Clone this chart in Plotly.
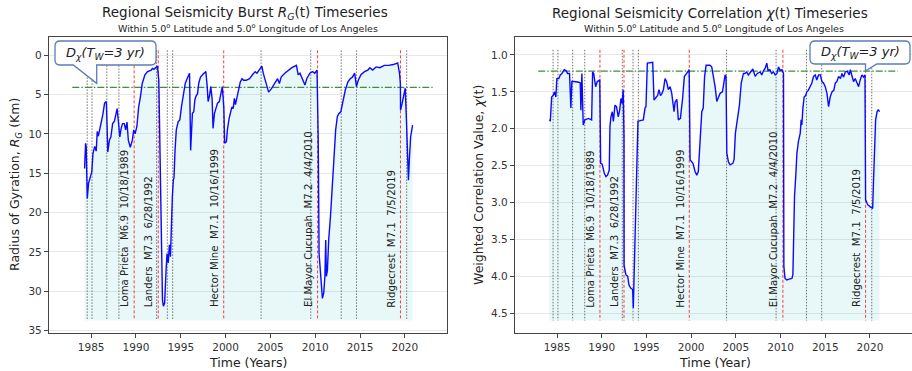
import plotly.graph_objects as go

# ---------------- data ----------------
rg_years = [1984.27, 1984.38, 1984.45, 1984.57, 1984.71, 1984.93, 1985.08, 1985.2, 1985.4, 1985.57,
            1985.68, 1985.8, 1985.97, 1986.1, 1986.3, 1986.5, 1986.7, 1986.86, 1987.04, 1987.2,
            1987.4, 1987.6, 1987.8, 1987.9, 1988.05, 1988.2, 1988.35, 1988.5, 1988.7, 1988.85,
            1989.0, 1989.15, 1989.37, 1989.6, 1989.75, 1989.9, 1990.1, 1990.3, 1990.5, 1990.7,
            1991.0, 1991.3, 1991.7, 1991.85, 1992.0, 1992.2, 1992.4, 1992.55, 1992.77, 1992.96,
            1993.06, 1993.2, 1993.36, 1993.47, 1993.6, 1993.73, 1993.85, 1993.95, 1994.06, 1994.17,
            1994.25, 1994.36, 1994.5, 1994.7, 1994.9, 1995.07, 1995.2, 1995.36, 1995.5, 1995.7,
            1995.98, 1996.1, 1996.2, 1996.3, 1996.45, 1996.57, 1996.7, 1996.87, 1997.0, 1997.2,
            1997.5, 1997.8, 1997.95, 1998.05, 1998.2, 1998.35, 1998.5, 1998.6, 1998.76, 1998.95,
            1999.1, 1999.3, 1999.5, 1999.63, 1999.8, 1999.9, 2000.09, 2000.2, 2000.4, 2000.55,
            2000.7, 2000.85, 2000.98, 2001.1, 2001.3, 2001.45, 2001.64, 2001.83, 2002.0, 2002.3,
            2002.67, 2003.0, 2003.3, 2003.5, 2003.8, 2004.05, 2004.2, 2004.6, 2004.8, 2005.1,
            2005.5, 2005.8, 2006.0, 2006.2, 2006.6, 2007.0, 2007.4, 2007.9, 2008.1, 2008.3,
            2008.65, 2008.85, 2009.05, 2009.4, 2009.7, 2009.95, 2010.2, 2010.33, 2010.43, 2010.6,
            2010.8, 2010.95, 2011.08, 2011.17, 2011.25, 2011.36, 2011.5, 2011.7, 2011.87, 2012.1,
            2012.28, 2012.47, 2012.65, 2012.85, 2013.1, 2013.36, 2013.65, 2013.9, 2014.15, 2014.4,
            2014.6, 2014.8, 2015.1, 2015.5, 2015.87, 2016.1, 2016.4, 2016.8, 2017.2, 2017.7,
            2018.2, 2018.7, 2019.2, 2019.4, 2019.5, 2019.52, 2019.7, 2019.85, 2020.04, 2020.15,
            2020.3, 2020.4, 2020.5, 2020.64, 2020.86]
rg_values = [14.4, 11.2, 11.6, 18.2, 16.3, 15.4, 14.8, 12.5, 11.6, 12.2,
             9.7, 10.3, 9.3, 9.0, 7.6, 6.1, 5.9, 12.3, 10.8, 10.4,
             8.7, 8.4, 7.2, 6.8, 8.5, 10.4, 9.3, 8.7, 8.7, 9.5,
             8.5, 10.8, 11.7, 10.8, 9.5, 10.0, 9.1, 6.6, 5.3, 3.6,
             2.5, 2.1, 1.9, 1.7, 1.8, 1.6, 1.4, 3.2, 19.3, 31.1,
             31.9, 31.5, 27.3, 25.2, 26.4, 24.1, 25.6, 21.4, 18.0, 15.9,
             15.5, 12.1, 9.5, 8.5, 8.2, 6.6, 5.7, 4.4, 3.6, 3.0,
             2.3, 12.1, 9.5, 7.4, 7.2, 5.7, 5.2, 4.9, 3.6, 2.8,
             2.4, 2.1, 4.0, 5.9, 5.2, 4.0, 5.6, 9.3, 7.4, 6.6,
             6.1, 5.9, 4.4, 4.0, 6.6, 11.2, 11.0, 9.5, 8.0, 7.4,
             6.6, 6.8, 5.5, 6.3, 5.3, 4.4, 3.4, 3.0, 3.2, 3.2,
             3.0, 2.5, 2.1, 2.3, 1.8, 1.4, 2.3, 3.8, 4.7, 4.3,
             3.6, 3.0, 3.6, 2.8, 2.3, 1.9, 1.6, 1.3, 2.5, 2.3,
             3.4, 3.8, 3.0, 2.3, 2.1, 2.3, 1.9, 10.4, 25.2, 27.7,
             30.9, 30.2, 28.1, 23.5, 28.1, 27.3, 23.5, 20.5, 17.1, 12.9,
             9.5, 7.8, 7.4, 7.2, 5.7, 4.4, 3.4, 3.0, 2.8, 2.3,
             4.0, 3.2, 2.5, 2.1, 1.9, 1.6, 1.9, 1.5, 1.6, 1.3,
             1.3, 1.2, 1.0, 2.3, 3.6, 7.0, 6.1, 5.3, 4.2, 7.4,
             12.1, 15.9, 13.3, 10.4, 8.9]

chi_years = [1984.12, 1984.25, 1984.4, 1984.55, 1984.73, 1984.87, 1984.98, 1985.2, 1985.36, 1985.55,
             1985.8, 1986.0, 1986.18, 1986.4, 1986.55, 1986.66, 1986.9, 1987.1, 1987.45, 1987.6,
             1987.67, 1987.78, 1987.93, 1988.12, 1988.5, 1988.87, 1988.98, 1989.1, 1989.32, 1989.5,
             1989.78, 1989.88, 1990.05, 1990.28, 1990.47, 1990.65, 1990.84, 1990.92, 1991.03, 1991.18,
             1991.3, 1991.48, 1991.65, 1991.85, 1992.0, 1992.15, 1992.28, 1992.4, 1992.49, 1992.5,
             1992.7, 1992.9, 1993.05, 1993.24, 1993.46, 1993.53, 1993.72, 1993.9, 1994.05, 1994.3,
             1994.65, 1994.84, 1994.95, 1995.1, 1995.4, 1995.7, 1995.85, 1996.07, 1996.25, 1996.4,
             1996.57, 1996.74, 1996.9, 1997.08, 1997.25, 1997.45, 1997.65, 1997.83, 1998.09, 1998.2,
             1998.4, 1998.57, 1998.8, 1999.06, 1999.24, 1999.5, 1999.78, 1999.88, 2000.2, 2000.44,
             2000.63, 2000.8, 2001.0, 2001.19, 2001.35, 2001.5, 2001.67, 2002.1, 2002.3, 2002.48,
             2002.68, 2002.87, 2003.05, 2003.24, 2003.5, 2003.69, 2003.8, 2003.9, 2003.99, 2004.17,
             2004.36, 2004.66, 2004.8, 2004.95, 2005.18, 2005.4, 2005.6, 2005.85, 2006.0, 2006.2,
             2006.4, 2006.67, 2006.9, 2007.16, 2007.4, 2007.72, 2007.9, 2008.1, 2008.28, 2008.46,
             2008.6, 2008.8, 2009.0, 2009.2, 2009.4, 2009.6, 2009.77, 2009.95, 2010.15, 2010.33,
             2010.37, 2010.5, 2010.7, 2010.95, 2011.27, 2011.38, 2011.45, 2011.56, 2011.72, 2011.83,
             2012.0, 2012.2, 2012.3, 2012.38, 2012.5, 2012.64, 2012.8, 2012.94, 2013.1, 2013.32,
             2013.5, 2013.69, 2013.88, 2014.05, 2014.25, 2014.45, 2014.63, 2014.8, 2015.0, 2015.19,
             2015.37, 2015.55, 2015.75, 2015.95, 2016.12, 2016.3, 2016.5, 2016.7, 2016.87, 2017.05,
             2017.24, 2017.45, 2017.68, 2017.8, 2017.98, 2018.16, 2018.35, 2018.55, 2018.73, 2018.9,
             2019.1, 2019.28, 2019.44, 2019.51, 2019.74, 2020.04, 2020.3, 2020.4, 2020.52, 2020.63,
             2020.79, 2020.93, 2021.07]
chi_values = [1.88, 1.89, 1.57, 1.55, 1.50, 1.57, 1.32, 1.32, 1.27, 1.25,
              1.20, 1.21, 1.25, 1.25, 1.72, 1.36, 1.36, 1.36, 1.37, 1.38,
              1.75, 1.25, 1.95, 1.88, 1.86, 1.88, 1.23, 1.25, 1.43, 1.36,
              1.34, 2.47, 2.48, 2.60, 2.65, 2.63, 2.56, 1.97, 1.84, 1.77,
              1.90, 1.68, 1.70, 1.84, 1.75, 1.59, 1.66, 1.47, 2.11, 3.85,
              3.98, 4.00, 4.12, 4.16, 4.18, 4.43, 3.51, 2.29, 1.90, 1.89,
              1.88, 1.72, 1.70, 1.11, 1.10, 1.10, 1.61, 1.57, 1.55, 1.47,
              1.55, 1.52, 1.47, 1.32, 1.36, 1.47, 1.43, 1.52, 1.77, 1.64,
              1.60, 1.88, 1.86, 1.57, 1.29, 1.25, 1.20, 2.42, 2.47, 2.58,
              2.63, 2.58, 2.15, 1.77, 1.72, 1.30, 1.14, 1.14, 1.16, 1.29,
              1.43, 1.63, 1.57, 1.52, 1.50, 1.36, 1.27, 1.29, 2.33, 2.45,
              2.49, 2.47, 2.42, 2.06, 1.84, 1.68, 1.38, 1.25, 1.25, 1.23,
              1.27, 1.23, 1.19, 1.29, 1.25, 1.23, 1.27, 1.21, 1.18, 1.11,
              1.21, 1.20, 1.25, 1.23, 1.27, 1.25, 1.16, 1.21, 1.20, 1.25,
              3.87, 4.03, 4.05, 4.04, 4.03, 3.98, 3.51, 2.92, 2.60, 2.33,
              2.17, 2.06, 1.88, 1.95, 1.72, 1.57, 1.55, 1.50, 1.48, 1.43,
              1.38, 1.29, 1.27, 1.34, 1.27, 1.27, 1.36, 1.38, 1.43, 1.52,
              1.70, 1.57, 1.50, 1.48, 1.38, 1.36, 1.29, 1.32, 1.25, 1.30,
              1.23, 1.22, 1.27, 1.20, 1.27, 1.36, 1.32, 1.38, 1.43, 1.34,
              1.27, 1.30, 1.27, 2.96, 3.03, 3.06, 3.08, 2.69, 2.24, 1.88,
              1.77, 1.74, 1.77]

major_dates = [1989.80, 1992.49, 1999.79, 2010.26, 2019.51]
major_labels = ["Loma Prieta  M6.9  10/18/1989", "Landers  M7.3  6/28/1992",
                "Hector Mine  M7.1  10/16/1999", "El Mayor Cucupah  M7.2  4/4/2010",
                "Ridgecrest  M7.1  7/5/2019"]
minor_dates = [1984.56, 1985.1, 1986.75, 1988.1, 1992.3, 1993.5, 1994.1, 2003.96,
               2009.5, 2012.9, 2014.6, 2020.2]

rg_threshold = 4.1
chi_threshold = 1.22
threshold_span = [1982.9, 2023.1]

RG_BASE, RG_VTOP, RG_LABEL_Y = 33.7, -0.6, 32.3
CHI_BASE, CHI_VTOP, CHI_LABEL_Y = 4.6, 0.93, 4.45

W, H = 912, 371
ML, MR, MT, MB = 0, 0, 37, 38
PH = H - MT - MB


def pxx(x):
    return x / W


def pxy(y):
    return (H - MB - y) / PH


FONT = "DejaVu Sans"
TXT = "#222222"

fig = go.Figure()


def add_panel(xa, ya, years, vals, base, vtop, thr):
    fig.add_trace(go.Scatter(x=years + [years[-1], years[0]], y=vals + [base, base],
                             fill="toself", fillcolor="rgba(0,175,175,0.09)",
                             line=dict(width=0), mode="lines", hoverinfo="skip",
                             xaxis=xa, yaxis=ya, showlegend=False))
    xs, ys = [], []
    for d in minor_dates:
        xs += [d, d, None]
        ys += [vtop, base, None]
    fig.add_trace(go.Scatter(x=xs, y=ys, mode="lines",
                             line=dict(color="rgba(90,90,90,0.85)", width=1, dash="1.5px,1.5px"),
                             xaxis=xa, yaxis=ya, showlegend=False, hoverinfo="skip"))
    xs, ys = [], []
    for d in major_dates:
        xs += [d, d, None]
        ys += [vtop, base, None]
    fig.add_trace(go.Scatter(x=xs, y=ys, mode="lines",
                             line=dict(color="rgba(255,40,40,0.9)", width=1, dash="3px,2px"),
                             xaxis=xa, yaxis=ya, showlegend=False, hoverinfo="skip"))
    fig.add_trace(go.Scatter(x=threshold_span, y=[thr, thr], mode="lines",
                             line=dict(color="#3d8f3d", width=1.2, dash="7px,2px,1.5px,2px"),
                             xaxis=xa, yaxis=ya, showlegend=False, hoverinfo="skip"))
    fig.add_trace(go.Scatter(x=years, y=vals, mode="lines",
                             line=dict(color="#0a0aff", width=1.4),
                             xaxis=xa, yaxis=ya, showlegend=False))


add_panel("x", "y", rg_years, rg_values, RG_BASE, RG_VTOP, rg_threshold)
add_panel("x2", "y2", chi_years, chi_values, CHI_BASE, CHI_VTOP, chi_threshold)

annotations = []
for xa, ya, ly in (("x", "y", RG_LABEL_Y), ("x2", "y2", CHI_LABEL_Y)):
    for d, lab in zip(major_dates, major_labels):
        annotations.append(dict(x=d, y=ly, xref=xa, yref=ya, text=lab.replace("  ", "\u00a0\u00a0"),
                                textangle=-90, xanchor="right", yanchor="bottom", xshift=-1.5,
                                showarrow=False, font=dict(family=FONT, size=10.2, color=TXT)))

for cx, title in ((245, "Regional Seismicity Burst <i>R<sub>G</sub></i>(t) Timeseries"),
                  (710, "Regional Seismicity Correlation <i>χ</i>(t) Timeseries")):
    annotations.append(dict(x=pxx(cx), y=pxy(13), xref="paper", yref="paper", text=title,
                            showarrow=False, xanchor="center", yanchor="middle",
                            font=dict(family=FONT, size=13.5, color=TXT)))
for cx in (248, 714):
    annotations.append(dict(x=pxx(cx), y=pxy(27.5), xref="paper", yref="paper",
                            text="Within 5.0<sup>o</sup> Latitude and 5.0<sup>o</sup> Longitude of Los Angeles",
                            showarrow=False, xanchor="center", yanchor="middle",
                            font=dict(family=FONT, size=9.5, color=TXT)))
for cx, t in ((248, "Time (Years)"), (715, "Time (Year)")):
    annotations.append(dict(x=pxx(cx), y=pxy(362.5), xref="paper", yref="paper", text=t,
                            showarrow=False, xanchor="center", yanchor="middle",
                            font=dict(family=FONT, size=12.5, color=TXT)))
for cx, t in ((15, "Radius of Gyration, <i>R<sub>G</sub></i> (Km)"),
              (478, "Weighted Correlation Value, <i>χ</i>(t)")):
    annotations.append(dict(x=pxx(cx), y=pxy(185), xref="paper", yref="paper", text=t,
                            textangle=-90, showarrow=False, xanchor="center", yanchor="middle",
                            font=dict(family=FONT, size=12.5, color=TXT)))

shapes = []


def callout(x0, y0, x1, y1, tail, r=5):
    def P(x, y):
        return f"{pxx(x):.5f},{pxy(y):.5f}"
    path = f"M {P(x0 + r, y0)} L {P(x1 - r, y0)} Q {P(x1, y0)} {P(x1, y0 + r)} "
    path += f"L {P(x1, y1 - r)} Q {P(x1, y1)} {P(x1 - r, y1)} "
    for (tx, ty) in tail:
        path += f"L {P(tx, ty)} "
    path += f"L {P(x0 + r, y1)} Q {P(x0, y1)} {P(x0, y1 - r)} L {P(x0, y0 + r)} Q {P(x0, y0)} {P(x0 + r, y0)} Z"
    shapes.append(dict(type="path", path=path, xref="paper", yref="paper",
                       line=dict(color="#5a7db8", width=1.3), fillcolor="white", layer="above"))
    annotations.append(dict(x=pxx((x0 + x1) / 2), y=pxy((y0 + y1) / 2), xref="paper", yref="paper",
                            text="<i>D<sub>χ</sub>(T<sub>W</sub>=3 yr)</i>", showarrow=False,
                            xanchor="center", yanchor="middle",
                            font=dict(family=FONT, size=13, color=TXT)))


callout(55, 41, 156, 65, [(96.7, 65), (96.7, 83.3), (73.3, 65)])
callout(810, 41, 910, 64, [(876.7, 64), (865.5, 71), (865.5, 64)])

xcommon = dict(range=[1980.3, 2024.7], tick0=1985, dtick=5, showgrid=False, zeroline=False,
               showline=True, linecolor="#444", linewidth=1.3, ticks="outside", ticklen=4,
               tickcolor="#444", tickfont=dict(family=FONT, size=10.5, color="#333"))
ycommon = dict(showgrid=True, gridcolor="#e8e8e8", gridwidth=1, zeroline=False,
               showline=True, linecolor="#444", linewidth=1.3, ticks="outside", ticklen=4,
               tickcolor="#444", tickfont=dict(family=FONT, size=10.5, color="#333"))

fig.update_layout(
    width=W, height=H, margin=dict(l=ML, r=MR, t=MT, b=MB),
    paper_bgcolor="white", plot_bgcolor="white",
    xaxis=dict(domain=[49 / W, 447 / W], anchor="y", mirror=True, **xcommon),
    yaxis=dict(domain=[0, 1], anchor="x", range=[35.3, -2.3], tick0=0, dtick=5, mirror=True, **ycommon),
    xaxis2=dict(domain=[515 / W, 1.0], anchor="y2", mirror=True, **xcommon),
    yaxis2=dict(domain=[0, 1], anchor="x2", range=[4.77, 0.756], tick0=1.0, dtick=0.5,
                tickformat=".1f", mirror=False, **ycommon),
    annotations=annotations, shapes=shapes, showlegend=False,
)

fig.write_html("out.html")
